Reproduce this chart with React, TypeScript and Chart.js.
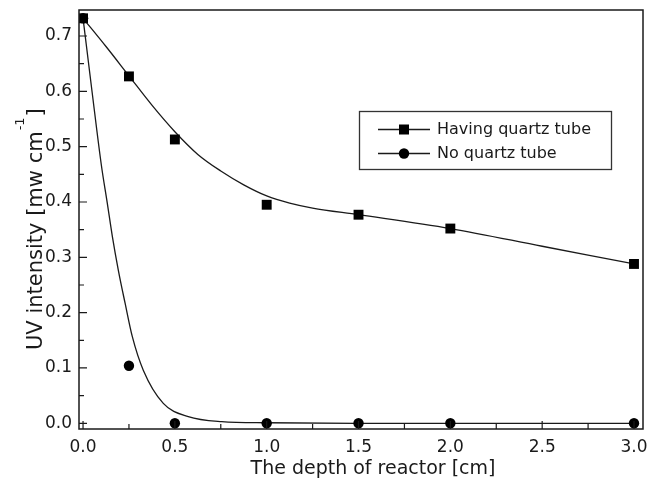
import React, { useEffect, useRef } from 'react';
import { Chart, registerables } from 'chart.js';

Chart.register(...registerables);

// ---- data ----
const depth = [0, 0.25, 0.5, 1.0, 1.5, 2.0, 3.0];
const withQuartz = [0.732, 0.627, 0.513, 0.395, 0.377, 0.352, 0.288];
const noQuartz = [0.732, 0.104, 0, 0, 0, 0, 0];

// fitted curves
const withFitX = [0, 0.125, 0.25, 0.375, 0.5, 0.625, 0.75, 0.875, 1.0, 1.125, 1.25, 1.5, 2.0, 2.5, 3.0];
const withFitY = [0.732, 0.681, 0.628, 0.575, 0.527, 0.486, 0.456, 0.431, 0.411, 0.398, 0.389, 0.377, 0.352, 0.32, 0.288];
const noFitX = [0, 0.05, 0.1, 0.132, 0.16, 0.192, 0.229, 0.268, 0.328, 0.437, 0.573, 0.755, 1.0, 1.5, 2.0, 3.0];
const noFitY = [0.732, 0.597, 0.466, 0.398, 0.337, 0.277, 0.217, 0.157, 0.096, 0.036, 0.012, 0.003, 0.001, 0, 0, 0];

const seriesLabels = ['Having quartz tube', 'No quartz tube'];
const xTickValues = [0, 0.5, 1.0, 1.5, 2.0, 2.5, 3.0];
const xMinorTicks = [0.25, 0.75, 1.25, 1.75, 2.25, 2.75];
const yTickValues = [0, 0.1, 0.2, 0.3, 0.4, 0.5, 0.6, 0.7];
const yMinorTicks = [0.05, 0.15, 0.25, 0.35, 0.45, 0.55, 0.65];
const xRange = [-0.022, 3.049];
const yRange = [-0.0103, 0.747];
const xTitle = 'The depth of reactor [cm]';
const yTitleMain = 'UV intensity [mw cm';
const yTitleSup = '-1';
const yTitleEnd = ']';

const FONT = '"DejaVu Sans", "Liberation Sans", Arial, sans-serif';
const INK = '#1a1a1a';

const toXY = (xs: number[], ys: number[]) => xs.map((x, i) => ({ x, y: ys[i] }));

const decorPlugin = {
  id: 'decor',
  afterDraw(chart: any) {
    const { ctx, chartArea, scales } = chart;
    const { left, right, top, bottom } = chartArea;
    const xs = scales.x;
    const ys = scales.y;
    ctx.save();
    // frame
    ctx.strokeStyle = INK;
    ctx.lineWidth = 1.5;
    ctx.strokeRect(left, top, right - left, bottom - top);
    // inward ticks
    ctx.lineWidth = 1.2;
    ctx.beginPath();
    xTickValues.forEach((v) => {
      const p = xs.getPixelForValue(v);
      ctx.moveTo(p, bottom);
      ctx.lineTo(p, bottom - 8);
    });
    xMinorTicks.forEach((v) => {
      const p = xs.getPixelForValue(v);
      ctx.moveTo(p, bottom);
      ctx.lineTo(p, bottom - 5);
    });
    yTickValues.forEach((v) => {
      const p = ys.getPixelForValue(v);
      ctx.moveTo(left, p);
      ctx.lineTo(left + 8, p);
    });
    yMinorTicks.forEach((v) => {
      const p = ys.getPixelForValue(v);
      ctx.moveTo(left, p);
      ctx.lineTo(left + 5, p);
    });
    ctx.stroke();

    // x title
    ctx.fillStyle = INK;
    ctx.font = `19px ${FONT}`;
    ctx.textAlign = 'center';
    ctx.textBaseline = 'alphabetic';
    ctx.fillText(xTitle, 373, 474);

    // y title (rotated, with superscript)
    ctx.save();
    ctx.translate(41.5, 350);
    ctx.rotate(-Math.PI / 2);
    ctx.textAlign = 'left';
    ctx.font = `21px ${FONT}`;
    ctx.fillText(yTitleMain, 0, 0);
    let w = ctx.measureText(yTitleMain).width;
    ctx.font = `13px ${FONT}`;
    ctx.fillText(yTitleSup, w + 1, -18);
    w += ctx.measureText(yTitleSup).width + 2;
    ctx.font = `21px ${FONT}`;
    ctx.fillText(yTitleEnd, w, 0);
    ctx.restore();

    // legend
    const bx = 359.5, by = 111.5, bw = 252, bh = 58;
    ctx.fillStyle = '#ffffff';
    ctx.fillRect(bx, by, bw, bh);
    ctx.strokeStyle = '#333';
    ctx.lineWidth = 1.3;
    ctx.strokeRect(bx, by, bw, bh);
    const rows = [129.5, 153.5];
    seriesLabels.forEach((label, i) => {
      const yy = rows[i];
      ctx.strokeStyle = INK;
      ctx.lineWidth = 1.3;
      ctx.beginPath();
      ctx.moveTo(378, yy);
      ctx.lineTo(430, yy);
      ctx.stroke();
      ctx.fillStyle = '#000';
      if (i === 0) {
        ctx.fillRect(404 - 5, yy - 5, 10, 10);
      } else {
        ctx.beginPath();
        ctx.arc(404, yy, 5.2, 0, Math.PI * 2);
        ctx.fill();
      }
      ctx.fillStyle = INK;
      ctx.font = `16px ${FONT}`;
      ctx.textAlign = 'left';
      ctx.textBaseline = 'middle';
      ctx.fillText(label, 437, yy);
    });
    ctx.restore();
  },
};

export default function App() {
  const ref = useRef<HTMLCanvasElement | null>(null);

  useEffect(() => {
    if (!ref.current) return;
    const chart = new Chart(ref.current, {
      type: 'line',
      data: {
        datasets: [
          {
            label: seriesLabels[0],
            data: toXY(depth, withQuartz),
            showLine: false,
            pointStyle: 'rect',
            pointRadius: 7,
            pointBackgroundColor: '#000',
            pointBorderWidth: 0,
            borderColor: '#000',
          },
          {
            label: seriesLabels[1],
            data: toXY(depth, noQuartz),
            showLine: false,
            pointStyle: 'circle',
            pointRadius: 5.2,
            pointBackgroundColor: '#000',
            pointBorderWidth: 0,
            borderColor: '#000',
          },
          {
            label: seriesLabels[0] + ' fit',
            data: toXY(withFitX, withFitY),
            showLine: true,
            pointRadius: 0,
            borderColor: INK,
            borderWidth: 1.3,
            cubicInterpolationMode: 'monotone',
            fill: false,
          },
          {
            label: seriesLabels[1] + ' fit',
            data: toXY(noFitX, noFitY),
            showLine: true,
            pointRadius: 0,
            borderColor: INK,
            borderWidth: 1.3,
            cubicInterpolationMode: 'monotone',
            fill: false,
          },
        ],
      },
      options: {
        responsive: false,
        devicePixelRatio: 1,
        animation: false,
        layout: { padding: { top: 10, right: 7, left: 0, bottom: 0 } },
        plugins: { legend: { display: false }, tooltip: { enabled: false } },
        scales: {
          x: {
            type: 'linear',
            min: xRange[0],
            max: xRange[1],
            grid: { display: false, drawTicks: false },
            border: { display: false },
            afterBuildTicks: (s: any) => {
              s.ticks = xTickValues.map((v) => ({ value: v }));
            },
            afterFit: (s: any) => {
              s.height = 52;
              s.paddingLeft = 0;
              s.paddingRight = 0;
            },
            ticks: {
              autoSkip: false,
              maxRotation: 0,
              padding: 8,
              color: INK,
              font: { family: FONT, size: 17 },
              callback: (v: any) => Number(v).toFixed(1),
            },
          },
          y: {
            type: 'linear',
            min: yRange[0],
            max: yRange[1],
            grid: { display: false, drawTicks: false },
            border: { display: false },
            afterBuildTicks: (s: any) => {
              s.ticks = yTickValues.map((v) => ({ value: v }));
            },
            afterFit: (s: any) => {
              s.width = 79;
              s.paddingTop = 0;
              s.paddingBottom = 0;
            },
            ticks: {
              autoSkip: false,
              padding: 7,
              color: INK,
              font: { family: FONT, size: 17 },
              callback: (v: any) => Number(v).toFixed(1),
            },
          },
        },
      },
      plugins: [decorPlugin],
    } as any);
    return () => chart.destroy();
  }, []);

  return (
    <div style={{ position: 'absolute', left: 0, top: 0, width: 650, height: 481, background: '#fff' }}>
      <canvas ref={ref} width={650} height={481} style={{ display: 'block' }} />
    </div>
  );
}
